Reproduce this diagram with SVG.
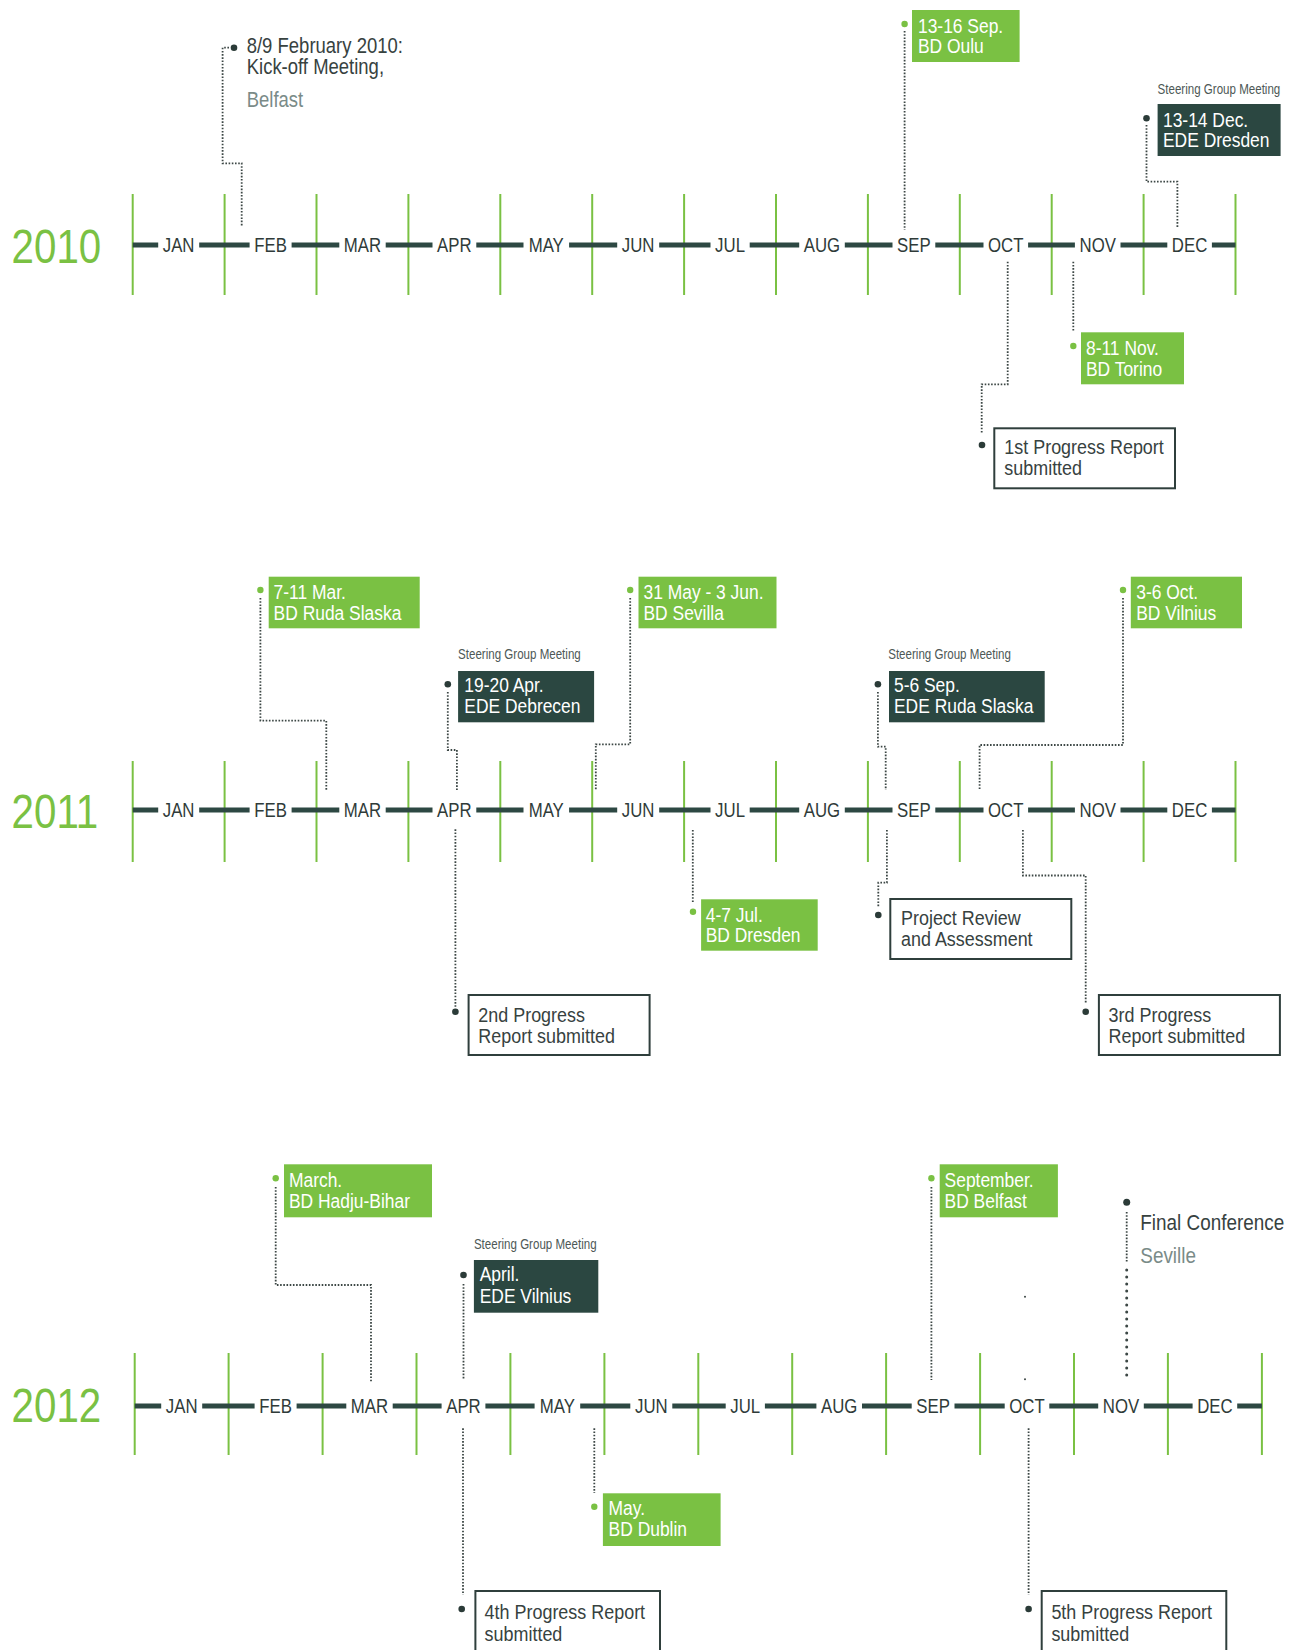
<svg xmlns="http://www.w3.org/2000/svg" width="1296" height="1650" viewBox="0 0 1296 1650">
<style>
text{font-family:"Liberation Sans",Arial,sans-serif;transform-box:fill-box;transform-origin:0 0;transform:scaleX(.84)}
.tick{stroke:#7ac143;stroke-width:2}
.bar{stroke:#2d4843;stroke-width:5;fill:none}
.month{font-size:20px;fill:#2f3b39;text-anchor:middle;transform-origin:50% 50%}
.year{font-size:48px;fill:#7ac143}
.gbox{fill:#7ac143}
.dbox{fill:#2b4741}
.wbox{fill:#fff;stroke:#2f3f3c;stroke-width:2}
.btxt{font-size:21px;fill:#fff;transform:scaleX(.83)}
.wtxt{font-size:21px;fill:#37423f;transform:scaleX(.855)}
.ptxt{font-size:21.5px;fill:#37423f;transform:scaleX(.86)}
.gtxt{font-size:21.5px;fill:#7a8b88;transform:scaleX(.86)}
.sgm{font-size:14px;fill:#4d5856;transform:scaleX(.826)}
.dg{fill:#7ac143}
.dd{fill:#2b3b38}
.conn{fill:none;stroke:#3c4745;stroke-width:1.8;stroke-dasharray:1.6 1.6}
.connb{fill:none;stroke:#3c4745;stroke-width:3;stroke-linecap:round;stroke-dasharray:0 7}
</style>

<g id="timeline-2010">
<text class="year" x="11.6" y="263.3">2010</text>
<g class="tick">
<line x1="132.7" y1="194" x2="132.7" y2="295"/><line x1="224.6" y1="194" x2="224.6" y2="295"/><line x1="316.5" y1="194" x2="316.5" y2="295"/><line x1="408.4" y1="194" x2="408.4" y2="295"/><line x1="500.3" y1="194" x2="500.3" y2="295"/><line x1="592.2" y1="194" x2="592.2" y2="295"/><line x1="684.1" y1="194" x2="684.1" y2="295"/><line x1="776" y1="194" x2="776" y2="295"/><line x1="867.9" y1="194" x2="867.9" y2="295"/><line x1="959.8" y1="194" x2="959.8" y2="295"/><line x1="1051.7" y1="194" x2="1051.7" y2="295"/><line x1="1143.6" y1="194" x2="1143.6" y2="295"/><line x1="1235.5" y1="194" x2="1235.5" y2="295"/>
</g>
<path class="bar" d="M132.7 245H158.2M199.2 245H249.6M291.6 245H339.3M385.7 245H432.5M476.3 245H523.5M569.1 245H617.2M659.2 245H710.5M749.7 245H799.2M844.8 245H892.5M935.3 245H983.5M1028.1 245H1074.9M1120.5 245H1167.3M1211.9 245H1235.5"/>
<text class="month" x="178.65" y="252.3">JAN</text><text class="month" x="270.55" y="252.3">FEB</text><text class="month" x="362.45" y="252.3">MAR</text><text class="month" x="454.35" y="252.3">APR</text><text class="month" x="546.25" y="252.3">MAY</text><text class="month" x="638.15" y="252.3">JUN</text><text class="month" x="730.05" y="252.3">JUL</text><text class="month" x="821.95" y="252.3">AUG</text><text class="month" x="913.85" y="252.3">SEP</text><text class="month" x="1005.75" y="252.3">OCT</text><text class="month" x="1097.65" y="252.3">NOV</text><text class="month" x="1189.55" y="252.3">DEC</text>
</g>

<g id="timeline-2011">
<text class="year" x="11.6" y="828.3">2011</text>
<g class="tick">
<line x1="132.7" y1="761" x2="132.7" y2="862"/><line x1="224.6" y1="761" x2="224.6" y2="862"/><line x1="316.5" y1="761" x2="316.5" y2="862"/><line x1="408.4" y1="761" x2="408.4" y2="862"/><line x1="500.3" y1="761" x2="500.3" y2="862"/><line x1="592.2" y1="761" x2="592.2" y2="862"/><line x1="684.1" y1="761" x2="684.1" y2="862"/><line x1="776" y1="761" x2="776" y2="862"/><line x1="867.9" y1="761" x2="867.9" y2="862"/><line x1="959.8" y1="761" x2="959.8" y2="862"/><line x1="1051.7" y1="761" x2="1051.7" y2="862"/><line x1="1143.6" y1="761" x2="1143.6" y2="862"/><line x1="1235.5" y1="761" x2="1235.5" y2="862"/>
</g>
<path class="bar" d="M132.7 810H158.2M199.2 810H249.6M291.6 810H339.3M385.7 810H432.5M476.3 810H523.5M569.1 810H617.2M659.2 810H710.5M749.7 810H799.2M844.8 810H892.5M935.3 810H983.5M1028.1 810H1074.9M1120.5 810H1167.3M1211.9 810H1235.5"/>
<text class="month" x="178.65" y="817.3">JAN</text><text class="month" x="270.55" y="817.3">FEB</text><text class="month" x="362.45" y="817.3">MAR</text><text class="month" x="454.35" y="817.3">APR</text><text class="month" x="546.25" y="817.3">MAY</text><text class="month" x="638.15" y="817.3">JUN</text><text class="month" x="730.05" y="817.3">JUL</text><text class="month" x="821.95" y="817.3">AUG</text><text class="month" x="913.85" y="817.3">SEP</text><text class="month" x="1005.75" y="817.3">OCT</text><text class="month" x="1097.65" y="817.3">NOV</text><text class="month" x="1189.55" y="817.3">DEC</text>
</g>

<g id="timeline-2012">
<text class="year" x="11.6" y="1421.7">2012</text>
<g class="tick">
<line x1="134.7" y1="1353" x2="134.7" y2="1455"/><line x1="228.6" y1="1353" x2="228.6" y2="1455"/><line x1="322.6" y1="1353" x2="322.6" y2="1455"/><line x1="416.5" y1="1353" x2="416.5" y2="1455"/><line x1="510.4" y1="1353" x2="510.4" y2="1455"/><line x1="604.4" y1="1353" x2="604.4" y2="1455"/><line x1="698.3" y1="1353" x2="698.3" y2="1455"/><line x1="792.2" y1="1353" x2="792.2" y2="1455"/><line x1="886.1" y1="1353" x2="886.1" y2="1455"/><line x1="980.1" y1="1353" x2="980.1" y2="1455"/><line x1="1074" y1="1353" x2="1074" y2="1455"/><line x1="1167.9" y1="1353" x2="1167.9" y2="1455"/><line x1="1261.9" y1="1353" x2="1261.9" y2="1455"/>
</g>
<path class="bar" d="M134.7 1406H161.2M202.2 1406H254.6M296.6 1406H346.3M392.7 1406H441.6M485.4 1406H534.6M580.2 1406H630.3M672.3 1406H725.7M764.9 1406H816.4M862 1406H911.7M954.5 1406H1004.7M1049.3 1406H1098.2M1143.8 1406H1192.6M1237.2 1406H1261.9"/>
<text class="month" x="181.67" y="1413.3">JAN</text><text class="month" x="275.6" y="1413.3">FEB</text><text class="month" x="369.53" y="1413.3">MAR</text><text class="month" x="463.46" y="1413.3">APR</text><text class="month" x="557.39" y="1413.3">MAY</text><text class="month" x="651.32" y="1413.3">JUN</text><text class="month" x="745.25" y="1413.3">JUL</text><text class="month" x="839.18" y="1413.3">AUG</text><text class="month" x="933.11" y="1413.3">SEP</text><text class="month" x="1027.04" y="1413.3">OCT</text><text class="month" x="1120.97" y="1413.3">NOV</text><text class="month" x="1214.9" y="1413.3">DEC</text>
</g>

<g id="connectors">
<path class="conn" d="M229 47.7H222.6V163.3H241.7V227"/>
<path class="conn" d="M904.6 31V230"/>
<path class="conn" d="M1146.5 125V181.7H1177.4V228.3"/>
<path class="conn" d="M1007.7 261.7V384.3H981.7V433.3"/>
<path class="conn" d="M1073.3 261.7V331.7"/>
<path class="conn" d="M260.4 598V720.7H326.3V790"/>
<path class="conn" d="M447.8 692V750H456.9V790"/>
<path class="conn" d="M630.2 598V744.3H595.8V790"/>
<path class="conn" d="M877.9 692V746.7H885.7V790"/>
<path class="conn" d="M1123 598V745H979.6V790"/>
<path class="conn" d="M455.4 829.3V1006.7"/>
<path class="conn" d="M692.8 830V902"/>
<path class="conn" d="M886.9 830V882.7H878.3V906.7"/>
<path class="conn" d="M1022.9 830V875.5H1085.7V1004"/>
<path class="conn" d="M275.7 1187V1285H371V1381.7"/>
<path class="conn" d="M463.5 1284V1380"/>
<path class="conn" d="M931.4 1187V1380"/>
<path class="conn" d="M1126.7 1212V1262"/>
<path class="connb" d="M1126.7 1270V1381.7"/>
<path class="conn" d="M463 1428.3V1595"/>
<path class="conn" d="M594.3 1428.3V1493"/>
<path class="conn" d="M1028.6 1428.3V1595"/>
<circle cx="1025" cy="1296.7" r="1" fill="#3c4745"/>
<circle cx="1025" cy="1379.3" r="1" fill="#3c4745"/>
</g>

<g id="kickoff">
<circle class="dd" cx="234" cy="47.7" r="3.3"/>
<text class="ptxt" x="246.7" y="53.3">8/9 February 2010:</text>
<text class="ptxt" x="246.7" y="74">Kick-off Meeting,</text>
<text class="gtxt" x="246.7" y="106.7">Belfast</text>
</g>
<g id="bd-oulu">
<circle class="dg" cx="904.6" cy="24" r="3.2"/>
<rect class="gbox" x="912" y="10" width="107.6" height="52"/>
<text class="btxt" x="918" y="32.7">13-16 Sep.</text>
<text class="btxt" x="918" y="53">BD Oulu</text>
</g>
<g id="ede-dresden">
<text class="sgm" x="1157.6" y="94.3">Steering Group Meeting</text>
<circle class="dd" cx="1146.5" cy="118.3" r="3.3"/>
<rect class="dbox" x="1157.6" y="104" width="123" height="52"/>
<text class="btxt" x="1163" y="126.7">13-14 Dec.</text>
<text class="btxt" x="1163" y="147.3">EDE Dresden</text>
</g>
<g id="bd-torino">
<circle class="dg" cx="1073.3" cy="346" r="3.2"/>
<rect class="gbox" x="1081" y="332.3" width="103" height="52"/>
<text class="btxt" x="1086" y="355">8-11 Nov.</text>
<text class="btxt" x="1086" y="375.7">BD Torino</text>
</g>
<g id="report-1">
<circle class="dd" cx="982" cy="445" r="3.3"/>
<rect class="wbox" x="994.3" y="428.3" width="180.7" height="60"/>
<text class="wtxt" x="1004.3" y="454">1st Progress Report</text>
<text class="wtxt" x="1004.3" y="475">submitted</text>
</g>

<g id="bd-ruda-slaska">
<circle class="dg" cx="260.4" cy="590" r="3.2"/>
<rect class="gbox" x="268.7" y="576.7" width="151" height="51.6"/>
<text class="btxt" x="273.6" y="599.3">7-11 Mar.</text>
<text class="btxt" x="273.6" y="620">BD Ruda Slaska</text>
</g>
<g id="ede-debrecen">
<text class="sgm" x="458.1" y="659.3">Steering Group Meeting</text>
<circle class="dd" cx="447.8" cy="684.3" r="3.3"/>
<rect class="dbox" x="458.1" y="671" width="136" height="51.3"/>
<text class="btxt" x="464.3" y="691.7">19-20 Apr.</text>
<text class="btxt" x="464.3" y="712.7">EDE Debrecen</text>
</g>
<g id="bd-sevilla">
<circle class="dg" cx="630.2" cy="590" r="3.2"/>
<rect class="gbox" x="638.5" y="576.7" width="138" height="51.6"/>
<text class="btxt" x="643.5" y="599.3">31 May - 3 Jun.</text>
<text class="btxt" x="643.5" y="620">BD Sevilla</text>
</g>
<g id="ede-ruda-slaska">
<text class="sgm" x="888.2" y="659.3">Steering Group Meeting</text>
<circle class="dd" cx="877.9" cy="684.3" r="3.3"/>
<rect class="dbox" x="889" y="671" width="155.7" height="51.3"/>
<text class="btxt" x="894" y="691.7">5-6 Sep.</text>
<text class="btxt" x="894" y="712.7">EDE Ruda Slaska</text>
</g>
<g id="bd-vilnius">
<circle class="dg" cx="1123" cy="590" r="3.2"/>
<rect class="gbox" x="1130.8" y="576.7" width="111.2" height="51.6"/>
<text class="btxt" x="1136.2" y="599.3">3-6 Oct.</text>
<text class="btxt" x="1136.2" y="620">BD Vilnius</text>
</g>
<g id="report-2">
<circle class="dd" cx="455.4" cy="1011.7" r="3.3"/>
<rect class="wbox" x="468.6" y="995" width="181" height="60"/>
<text class="wtxt" x="478.3" y="1021.7">2nd Progress</text>
<text class="wtxt" x="478.3" y="1042.7">Report submitted</text>
</g>
<g id="bd-dresden">
<circle class="dg" cx="693" cy="911.7" r="3.2"/>
<rect class="gbox" x="701.1" y="899.3" width="116.6" height="51.4"/>
<text class="btxt" x="705.7" y="921.7">4-7 Jul.</text>
<text class="btxt" x="705.7" y="941.7">BD Dresden</text>
</g>
<g id="project-review">
<circle class="dd" cx="878.3" cy="915" r="3.3"/>
<rect class="wbox" x="890.3" y="899" width="181" height="60"/>
<text class="wtxt" x="901" y="925">Project Review</text>
<text class="wtxt" x="901" y="946">and Assessment</text>
</g>
<g id="report-3">
<circle class="dd" cx="1085.7" cy="1011.7" r="3.3"/>
<rect class="wbox" x="1098.9" y="995" width="181" height="60"/>
<text class="wtxt" x="1108.6" y="1021.7">3rd Progress</text>
<text class="wtxt" x="1108.6" y="1042.7">Report submitted</text>
</g>

<g id="bd-hadju-bihar">
<circle class="dg" cx="275.7" cy="1178.3" r="3.2"/>
<rect class="gbox" x="284" y="1164.3" width="148" height="53"/>
<text class="btxt" x="289" y="1186.7">March.</text>
<text class="btxt" x="289" y="1208.3">BD Hadju-Bihar</text>
</g>
<g id="ede-vilnius">
<text class="sgm" x="473.9" y="1249">Steering Group Meeting</text>
<circle class="dd" cx="463.5" cy="1275" r="3.3"/>
<rect class="dbox" x="473.9" y="1260" width="124.4" height="52.7"/>
<text class="btxt" x="479.7" y="1281">April.</text>
<text class="btxt" x="479.7" y="1302.7">EDE Vilnius</text>
</g>
<g id="bd-belfast">
<circle class="dg" cx="931.4" cy="1178.3" r="3.2"/>
<rect class="gbox" x="939.7" y="1164.3" width="118.2" height="53"/>
<text class="btxt" x="944.6" y="1186.7">September.</text>
<text class="btxt" x="944.6" y="1208.3">BD Belfast</text>
</g>
<g id="final-conference">
<circle class="dd" cx="1126.7" cy="1202.3" r="3.5"/>
<text class="ptxt" x="1140.3" y="1230" style="font-size:22px">Final Conference</text>
<text class="gtxt" x="1140.3" y="1263.3" style="font-size:22px">Seville</text>
</g>
<g id="bd-dublin">
<circle class="dg" cx="594.3" cy="1506.7" r="3.2"/>
<rect class="gbox" x="602.9" y="1493.3" width="117.7" height="52.7"/>
<text class="btxt" x="608.6" y="1515">May.</text>
<text class="btxt" x="608.6" y="1536">BD Dublin</text>
</g>
<g id="report-4">
<circle class="dd" cx="461.7" cy="1609" r="3.3"/>
<rect class="wbox" x="475.4" y="1591" width="184.6" height="62"/>
<text class="wtxt" x="484.6" y="1619.5">4th Progress Report</text>
<text class="wtxt" x="484.6" y="1641">submitted</text>
</g>
<g id="report-5">
<circle class="dd" cx="1028.6" cy="1609" r="3.3"/>
<rect class="wbox" x="1041.7" y="1591" width="184.6" height="62"/>
<text class="wtxt" x="1051.4" y="1619.5">5th Progress Report</text>
<text class="wtxt" x="1051.4" y="1641">submitted</text>
</g>
</svg>
